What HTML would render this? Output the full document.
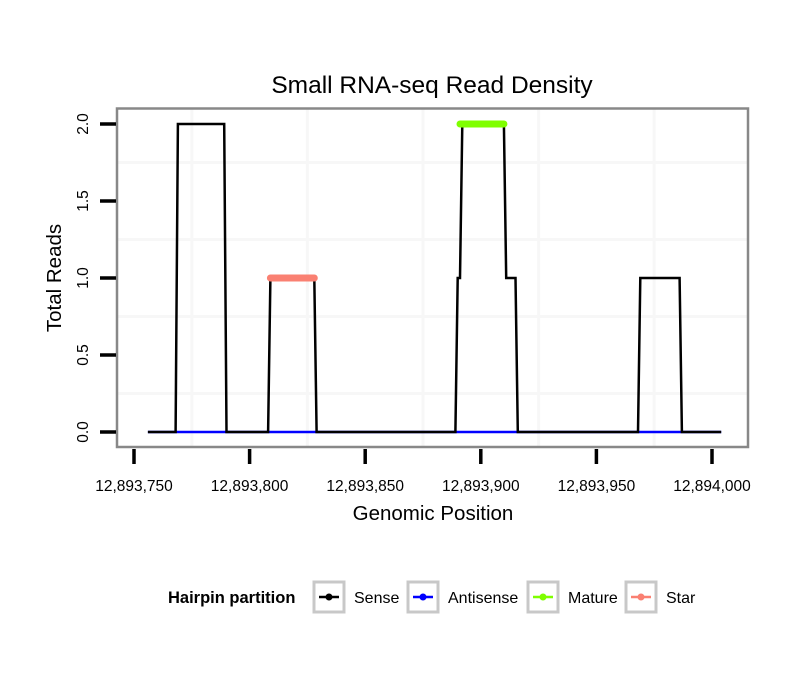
<!DOCTYPE html>
<html><head><meta charset="utf-8"><style>
body{margin:0;background:#fff;}
svg text{font-family:"Liberation Sans",sans-serif;}
</style></head><body>
<svg id="chart" width="810" height="690" viewBox="0 0 810 690" xmlns="http://www.w3.org/2000/svg">
<text x="432" y="93" text-anchor="middle" font-size="24.5">Small RNA-seq Read Density</text>
<g id="grid"></g>
<rect x="117" y="108.5" width="631" height="338.5" fill="none" stroke="#888" stroke-width="2.5"/>
<g id="series"></g>
<g id="axes"></g>
<text x="433" y="520" text-anchor="middle" font-size="20.5">Genomic Position</text>
<text transform="translate(61,278) rotate(-90)" text-anchor="middle" font-size="20.5">Total Reads</text>
<g>
<text x="168" y="603" font-size="16.5" font-weight="bold">Hairpin partition</text>
<g id="legend-keys"></g>
</g>
</svg>
<script>
const xMin=12893750, xMax=12894000;
const xTicks=[12893750,12893800,12893850,12893900,12893950,12894000];
const xTickLabels=["12,893,750","12,893,800","12,893,850","12,893,900","12,893,950","12,894,000"];
const yTicks=[0,0.5,1,1.5,2];
const yTickLabels=["0.0","0.5","1.0","1.5","2.0"];
const xMinorGrid=[12893775,12893825,12893875,12893925,12893975];
const yMinorGrid=[0.25,0.75,1.25,1.75];
const sensePos=[12893756,12893768,12893769,12893789,12893790,12893808,12893809,12893828,12893829,12893889,12893890,12893891,12893892,12893910,12893911,12893915,12893916,12893968,12893969,12893986,12893987,12894004];
const senseVal=[0,0,2,2,0,0,1,1,0,0,1,1,2,2,1,1,0,0,1,1,0,0];
const antisensePos=[12893756,12894004];
const antisenseVal=[0,0];
const maturePos=[12893891,12893910];
const matureVal=[2,2];
const starPos=[12893809,12893828];
const starVal=[1,1];

const NS="http://www.w3.org/2000/svg";
const X=v=>134+(v-xMin)*(712-134)/(xMax-xMin);
const Y=v=>432-v*154;
function mk(tag,attrs,parent){const e=document.createElementNS(NS,tag);for(const k in attrs)e.setAttribute(k,attrs[k]);parent.appendChild(e);return e;}
const grid=document.getElementById('grid'), ser=document.getElementById('series'), axes=document.getElementById('axes');
xMinorGrid.forEach(v=>{const l=mk('line',{x1:X(v),x2:X(v),y1:109,y2:446,stroke:'#f7f7f7','stroke-width':3},grid);

});
yMinorGrid.forEach(v=>{const l=mk('line',{x1:118,x2:747,y1:Y(v),y2:Y(v),stroke:'#f7f7f7','stroke-width':3},grid);

});
function path(pos,val,color,w,name,cap){
 const d=pos.map((p,i)=>(i?'L':'M')+X(p).toFixed(1)+','+Y(val[i]).toFixed(1)).join(' ');
 const e=mk('path',{d:d,fill:'none',stroke:color,'stroke-width':w,'stroke-linecap':cap,'stroke-linejoin':'miter'},ser);
 
 
}
path(antisensePos,antisenseVal,'#0000ff',2.5,'antisense-line','butt');
path(sensePos,senseVal,'#000',2.5,'sense-line','butt');
path(maturePos,matureVal,'#7fff00',7,'mature-line','round');
path(starPos,starVal,'#fa8072',7,'star-line','round');
xTicks.forEach((v,i)=>{const t=mk('line',{x1:X(v),x2:X(v),y1:449,y2:464,stroke:'#000','stroke-width':3.5},axes);


const tx=mk('text',{x:X(v),y:491,'text-anchor':'middle','font-size':15.5},axes);tx.textContent=xTickLabels[i];

});
yTicks.forEach((v,i)=>{const t=mk('line',{x1:100,x2:116,y1:Y(v),y2:Y(v),stroke:'#000','stroke-width':3.5},axes);


const tx=mk('text',{transform:`translate(88,${Y(v)}) rotate(-90)`,'text-anchor':'middle','font-size':15.5},axes);tx.textContent=yTickLabels[i];

});
const legNames=["Sense","Antisense","Mature","Star"];
const legColors=["#000","#0000ff","#7fff00","#fa8072"];
const legBoxX=[314,408,528,626];
const lg=document.getElementById('legend-keys');
legNames.forEach((n,i)=>{const x=legBoxX[i];
const b=mk('rect',{x:x,y:582,width:30,height:30,fill:'#fff',stroke:'#c8c8c8','stroke-width':3},lg);


mk('line',{x1:x+5,x2:x+25,y1:597,y2:597,stroke:legColors[i],'stroke-width':2.5},lg);
mk('circle',{cx:x+15,cy:597,r:3.5,fill:legColors[i]},lg);
const t=mk('text',{x:x+40,y:603,'font-size':16},lg);t.textContent=n;

});
</script>
</body></html>
